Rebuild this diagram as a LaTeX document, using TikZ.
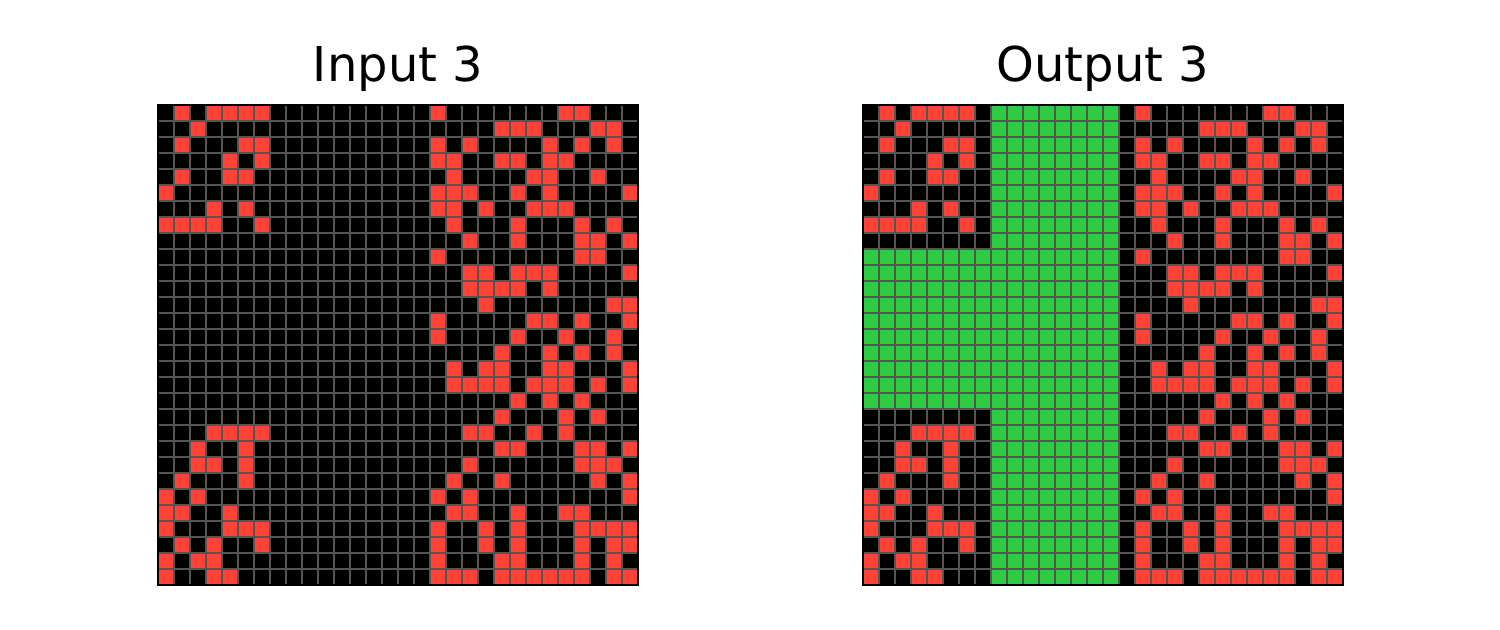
\documentclass[tikz,border=0pt]{standalone}
\usepackage{fontspec}
\setmainfont{DejaVu Sans}
\usepackage{xcolor}
\usepackage{tikz}
\usetikzlibrary{positioning}
\definecolor{arcred}  {HTML}{FF4136}
\definecolor{arcgreen}{HTML}{2ECC40}
\definecolor{arcgrid} {HTML}{555555}

% one row of red cells, #1 = row, #2 = columns
\newcommand{\cellrow}[2]{\foreach \c in {#2}{\fill[arcred] (\c*16,#1*16) rectangle ++(16,16);}}
\newcommand{\redcells}{%
  \cellrow{0}{1,3,4,5,6,17,25,26}
  \cellrow{1}{2,21,22,23,27,28}
  \cellrow{2}{1,5,6,17,19,24,26,28}
  \cellrow{3}{4,6,17,18,21,22,24,25}
  \cellrow{4}{1,4,5,18,23,24,27}
  \cellrow{5}{0,17,18,19,22,24,29}
  \cellrow{6}{3,5,17,18,20,23,24,25}
  \cellrow{7}{0,1,2,3,6,18,22,26,28}
  \cellrow{8}{19,22,26,27,29}
  \cellrow{9}{17,26,27}
  \cellrow{10}{19,20,22,23,24,29}
  \cellrow{11}{19,20,21,22,24}
  \cellrow{12}{20,28,29}
  \cellrow{13}{17,23,24,26,29}
  \cellrow{14}{17,22,25,28}
  \cellrow{15}{21,24,26,28}
  \cellrow{16}{18,20,21,24,25,29}
  \cellrow{17}{18,19,20,21,23,24,25,27,29}
  \cellrow{18}{22,24,26}
  \cellrow{19}{21,25,27}
  \cellrow{20}{3,4,5,6,19,20,23,25}
  \cellrow{21}{2,5,21,22,26,27,29}
  \cellrow{22}{2,3,5,19,26,27,28}
  \cellrow{23}{1,5,18,21,27,29}
  \cellrow{24}{0,2,17,19,29}
  \cellrow{25}{0,1,4,18,19,22,25,26}
  \cellrow{26}{0,4,5,6,17,20,22,26,27,28,29}
  \cellrow{27}{1,3,6,17,20,22,26,28,29}
  \cellrow{28}{0,2,3,17,21,22,26,28}
  \cellrow{29}{0,3,4,17,18,19,21,22,23,24,25,26,28,29}%
}
\newcommand{\gridlines}{%
  \foreach \i in {1,...,29}{
    \draw[gline] (\i*16,0) -- (\i*16,480);
    \draw[gline] (0,\i*16) -- (480,\i*16);
  }
  \draw[frame] (0,0) rectangle (480,480);%
}

\begin{document}
\begin{tikzpicture}[
  x=0.5pt, y=-0.5pt,
  every node/.style={font=\fontsize{24}{29}\selectfont, inner sep=0pt},
  title/.style={anchor=base, text=black},
  gline/.style={draw=arcgrid, line width=0.75pt},
  frame/.style={draw=black, line width=1pt},
]
\useasboundingbox (0,0) rectangle (1500,629);

% input grid
\begin{scope}[shift={(158,105)}]
  \fill[black] (0,0) rectangle (480,480);
  \redcells
  \gridlines
\end{scope}

% output grid
\begin{scope}[shift={(863,105)}]
  \fill[black] (0,0) rectangle (480,480);
  \redcells
  \fill[arcgreen] (128,0) rectangle (256,480);
  \fill[arcgreen] (0,144) rectangle (128,304);
  \gridlines
\end{scope}

\node[title] (intitle)  at (398,81)  {Input 3};
\node[title] (outtitle) at (1103,81) {Output 3};
\end{tikzpicture}
\end{document}
